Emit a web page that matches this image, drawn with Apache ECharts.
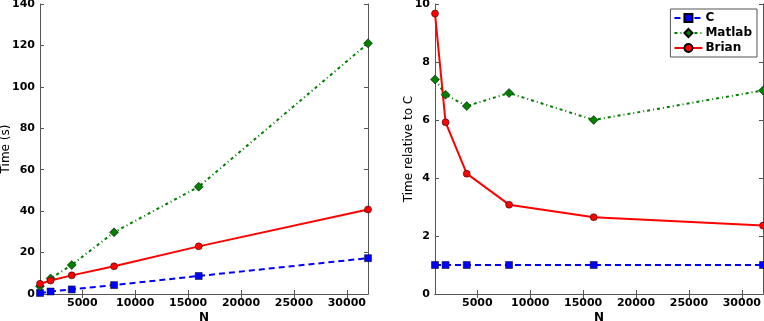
<!DOCTYPE html>
<html>
<head>
<meta charset="utf-8">
<script src="https://cdn.jsdelivr.net/npm/echarts@6/dist/echarts.min.js"></script>
<style>
  html, body { margin: 0; padding: 0; background: #fff; }
  #chart { width: 764px; height: 321px; }
</style>
</head>
<body>
<div id="chart"></div>
<script>
const sizes = [1000, 2000, 4000, 8000, 16000, 32000]
const xTicks = [5000, 10000, 15000, 20000, 25000, 30000]

// absolute times (s)
const timeC = [0.5, 1.2, 2.2, 4.3, 8.7, 17.3]
const timeMatlab = [3.7, 7.5, 14, 29.8, 51.8, 121]
const timeBrian = [4.9, 6.5, 9, 13.4, 23, 40.8]

// relative to C
const relC = [1, 1, 1, 1, 1, 1]
const relMatlab = [7.4, 6.87, 6.48, 6.93, 6.0, 7.02]
const relBrian = [9.67, 5.92, 4.15, 3.08, 2.65, 2.36]

function pairs(ys) {
    return sizes.map(function (n, i) { return [n, ys[i]] })
}

const font = 'DejaVu Sans'
const axisColor = '#555'

function xAxisDef(grid, top) {
    return {
        type: 'value', gridIndex: grid, min: 1000, max: 32000,
        position: top ? 'top' : 'bottom',
        name: top ? '' : 'N', nameLocation: 'middle', nameGap: 18, nameMoveOverlap: false,
        nameTextStyle: { fontFamily: font, fontSize: 12, fontWeight: 'bold', color: '#000' },
        axisLine: { show: true, lineStyle: { color: axisColor, width: 1 } },
        axisTick: { show: true, inside: true, length: 4, customValues: xTicks, lineStyle: { color: axisColor } },
        axisLabel: {
            show: !top, customValues: xTicks, fontFamily: font, fontSize: 11, fontWeight: 'bold', color: '#000', margin: 4,
            formatter: function (v) { return String(v) }
        },
        splitLine: { show: false }
    }
}

function yAxisDef(grid, max, interval, name, gap, right) {
    return {
        type: 'value', gridIndex: grid, min: 0, max: max, interval: interval,
        position: right ? 'right' : 'left',
        name: right ? '' : name, nameLocation: 'middle', nameGap: gap, nameMoveOverlap: false,
        nameTextStyle: { fontFamily: font, fontSize: 12, color: '#000' },
        axisLine: { show: true, lineStyle: { color: axisColor, width: 1 } },
        axisTick: { show: true, inside: true, length: 4, lineStyle: { color: axisColor } },
        axisLabel: { show: !right, fontFamily: font, fontSize: 11, fontWeight: 'bold', color: '#000', margin: 5 },
        splitLine: { show: false }
    }
}

function lineSeries(name, grid, ys, color, lineType, symbol, size) {
    return {
        name: name, type: 'line', xAxisIndex: grid * 2, yAxisIndex: grid * 2,
        data: pairs(ys), symbol: symbol, symbolSize: size,
        lineStyle: { color: color, width: 2, type: lineType },
        itemStyle: { color: color, borderColor: '#000', borderWidth: 0.5 },
        animation: false
    }
}

const chart = echarts.init(document.getElementById('chart'))
chart.setOption({
    backgroundColor: '#fff',
    grid: [
        { left: 40, right: 396, top: 4, bottom: 27, outerBoundsMode: 'none', containLabel: false },
        { left: 435, right: 1, top: 4, bottom: 27, outerBoundsMode: 'none', containLabel: false }
    ],
    xAxis: [xAxisDef(0, false), xAxisDef(0, true), xAxisDef(1, false), xAxisDef(1, true)],
    yAxis: [
        yAxisDef(0, 140, 20, 'Time (s)', 28, false),
        yAxisDef(0, 140, 20, '', 0, true),
        yAxisDef(1, 10, 2, 'Time relative to C', 20, false),
        yAxisDef(1, 10, 2, '', 0, true)
    ],
    legend: {
        right: 7, top: 9, orient: 'vertical',
        data: ['C', 'Matlab', 'Brian'],
        borderColor: axisColor, borderWidth: 1, borderRadius: 0,
        padding: [3, 5, 3, 3], itemGap: 3, itemWidth: 28, itemHeight: 10,
        textStyle: { fontFamily: font, fontSize: 12, fontWeight: 'bold', color: '#000', padding: [0, 0, 0, -2] }
    },
    series: [
        lineSeries('C', 0, timeC, '#0000ff', [6, 4], 'rect', 7),
        lineSeries('Matlab', 0, timeMatlab, '#007f00', [3, 3, 1, 3], 'diamond', 9),
        lineSeries('Brian', 0, timeBrian, '#ff0000', 'solid', 'circle', 7),
        lineSeries('C', 1, relC, '#0000ff', [6, 4], 'rect', 7),
        lineSeries('Matlab', 1, relMatlab, '#007f00', [3, 3, 1, 3], 'diamond', 9),
        lineSeries('Brian', 1, relBrian, '#ff0000', 'solid', 'circle', 7)
    ]
})
</script>
</body>
</html>
